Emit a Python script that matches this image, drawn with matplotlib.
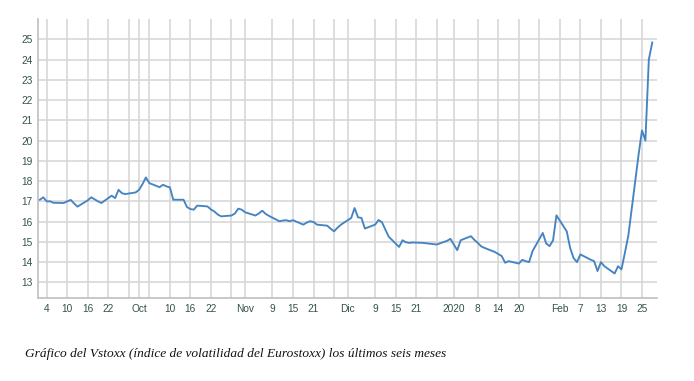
import matplotlib
matplotlib.use("Agg")
import matplotlib.pyplot as plt
import matplotlib.dates as mdates
import numpy as np
import pandas as pd

# ---- data ----
dates = [
    "2019-09-02", "2019-09-03", "2019-09-04", "2019-09-05", "2019-09-06",
    "2019-09-09", "2019-09-10", "2019-09-11", "2019-09-12", "2019-09-13",
    "2019-09-16", "2019-09-17", "2019-09-18", "2019-09-19", "2019-09-20",
    "2019-09-23", "2019-09-24", "2019-09-25", "2019-09-26", "2019-09-27",
    "2019-09-30", "2019-10-01", "2019-10-02", "2019-10-03", "2019-10-04",
    "2019-10-07", "2019-10-08", "2019-10-09", "2019-10-10", "2019-10-11",
    "2019-10-14", "2019-10-15", "2019-10-16", "2019-10-17", "2019-10-18",
    "2019-10-21", "2019-10-22", "2019-10-23", "2019-10-24", "2019-10-25",
    "2019-10-28", "2019-10-29", "2019-10-30", "2019-10-31", "2019-11-01",
    "2019-11-04", "2019-11-05", "2019-11-06", "2019-11-07", "2019-11-08",
    "2019-11-11", "2019-11-12", "2019-11-13", "2019-11-14", "2019-11-15",
    "2019-11-18", "2019-11-19", "2019-11-20", "2019-11-21", "2019-11-22",
    "2019-11-25", "2019-11-26", "2019-11-27", "2019-11-28", "2019-11-29",
    "2019-12-02", "2019-12-03", "2019-12-04", "2019-12-05", "2019-12-06",
    "2019-12-09", "2019-12-10", "2019-12-11", "2019-12-12", "2019-12-13",
    "2019-12-16", "2019-12-17", "2019-12-18", "2019-12-19", "2019-12-20",
    "2019-12-23", "2019-12-24", "2019-12-27", "2019-12-30", "2019-12-31",
    "2020-01-02", "2020-01-03", "2020-01-06", "2020-01-07", "2020-01-08",
    "2020-01-09", "2020-01-10", "2020-01-13", "2020-01-14", "2020-01-15",
    "2020-01-16", "2020-01-17", "2020-01-20", "2020-01-21", "2020-01-22",
    "2020-01-23", "2020-01-24", "2020-01-27", "2020-01-28", "2020-01-29",
    "2020-01-30", "2020-01-31", "2020-02-03", "2020-02-04", "2020-02-05",
    "2020-02-06", "2020-02-07", "2020-02-10", "2020-02-11", "2020-02-12",
    "2020-02-13", "2020-02-14", "2020-02-17", "2020-02-18", "2020-02-19",
    "2020-02-20", "2020-02-21", "2020-02-24", "2020-02-25", "2020-02-26",
    "2020-02-27", "2020-02-28",
]
vstoxx = [
    17.08, 17.20, 17.00, 17.00, 16.93,
    16.92, 17.00, 17.07, 16.90, 16.74,
    17.05, 17.20, 17.10, 17.00, 16.92,
    17.28, 17.16, 17.57, 17.40, 17.36,
    17.44, 17.57, 17.85, 18.18, 17.90,
    17.70, 17.82, 17.74, 17.69, 17.08,
    17.08, 16.72, 16.62, 16.59, 16.79,
    16.75, 16.60, 16.50, 16.35, 16.26,
    16.30, 16.40, 16.64, 16.59, 16.46,
    16.30, 16.40, 16.54, 16.38, 16.28,
    16.02, 16.05, 16.07, 16.02, 16.07,
    15.85, 15.95, 16.02, 15.98, 15.85,
    15.80, 15.65, 15.52, 15.70, 15.85,
    16.18, 16.67, 16.21, 16.18, 15.66,
    15.85, 16.08, 15.97, 15.60, 15.25,
    14.75, 15.08, 14.98, 14.95, 14.97,
    14.95, 14.93, 14.87, 15.05, 15.15,
    14.59, 15.08, 15.28, 15.10, 14.95,
    14.78, 14.70, 14.50, 14.40, 14.30,
    13.97, 14.05, 13.93, 14.11, 14.05,
    14.00, 14.54, 15.44, 14.92, 14.79,
    15.08, 16.31, 15.52, 14.70, 14.20,
    14.00, 14.38, 14.12, 14.05, 13.56,
    14.00, 13.80, 13.44, 13.80, 13.64,
    14.46, 15.30, 19.30, 20.50, 20.00,
    24.00, 24.84,
]

y_ticks = [13, 14, 15, 16, 17, 18, 19, 20, 21, 22, 23, 24, 25]

x_tick_dates = [
    "2019-09-04", "2019-09-10", "2019-09-16", "2019-09-22", "2019-10-01",
    "2019-10-10", "2019-10-16", "2019-10-22", "2019-11-01", "2019-11-09",
    "2019-11-15", "2019-11-21", "2019-12-01", "2019-12-09", "2019-12-15",
    "2019-12-21", "2020-01-01", "2020-01-08", "2020-01-14", "2020-01-20",
    "2020-02-01", "2020-02-07", "2020-02-13", "2020-02-19", "2020-02-25",
]
x_tick_labels = [
    "4", "10", "16", "22", "Oct",
    "10", "16", "22", "Nov", "9",
    "15", "21", "Dic", "9", "15",
    "21", "2020", "8", "14", "20",
    "Feb", "7", "13", "19", "25",
]
# unlabelled grid lines
x_minor_dates = [
    "2019-09-28", "2019-10-04", "2019-10-28", "2019-11-27",
    "2019-12-27", "2020-01-26",
]

caption = "Gráfico del Vstoxx (índice de volatilidad del Eurostoxx) los últimos seis meses"

# ---- figure ----
W, H, DPI = 694, 381, 100
fig = plt.figure(figsize=(W / DPI, H / DPI), dpi=DPI)
ax = fig.add_axes([37.7 / W, 1 - 298 / H, (656.7 - 37.7) / W, (298 - 19) / H])

x = pd.to_datetime(dates)
ax.plot(x, vstoxx, color="#4584c2", lw=1.35, solid_joinstyle="round", zorder=3)

ax.set_xlim(mdates.date2num(pd.Timestamp("2019-09-04")) - 2.63,
            mdates.date2num(pd.Timestamp("2020-02-25")) + 4.3)
ax.set_ylim(12.23, 26)

ax.set_yticks(y_ticks)
ax.set_yticklabels([str(v) for v in y_ticks])
ax.set_xticks(pd.to_datetime(x_tick_dates))
ax.set_xticklabels(x_tick_labels)
ax.set_xticks(pd.to_datetime(x_minor_dates), minor=True)

grid_col = "#d6d6d6"
ax.grid(True, which="major", axis="both", color=grid_col, lw=1.15)
ax.grid(True, which="minor", axis="x", color=grid_col, lw=1.15)
ax.set_axisbelow(True)

for s in ["top", "right"]:
    ax.spines[s].set_visible(False)
for s in ["left", "bottom"]:
    ax.spines[s].set_color("#c4c4c4")
    ax.spines[s].set_linewidth(1.3)

lab_col = "#35524a"
ax.tick_params(axis="both", which="both", length=0, labelcolor=lab_col,
               labelsize=7.3)
ax.tick_params(axis="y", pad=3.5)
ax.tick_params(axis="x", pad=4)
for t in ax.get_xticklabels() + ax.get_yticklabels():
    t.set_fontfamily("Liberation Sans")

fig.text(25 / W, 1 - 354 / H, caption, fontsize=9.6, style="italic",
         family="Liberation Serif", color="#111111", va="center", ha="left")

fig.savefig("out.png", dpi=DPI)
